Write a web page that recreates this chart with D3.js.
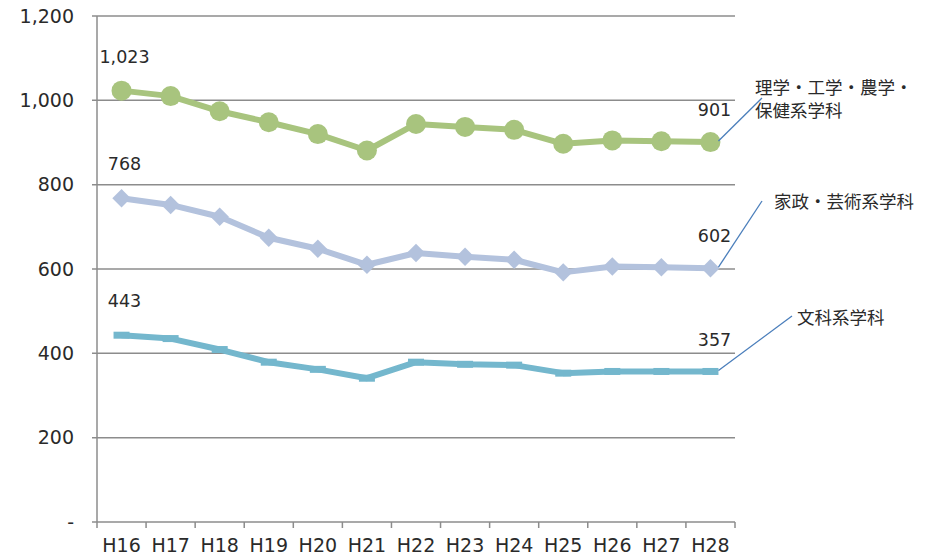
<html>
<head>
	<meta charset="utf-8">
	<script src="https://d3js.org/d3.v7.min.js"></script>
	<style>
		body { margin: 0; background: #fff; }
		text { font-family: "DejaVu Sans", "Noto Sans CJK JP", sans-serif; fill: #2a2a2a; }
		text.jp { font-family: "Noto Sans CJK JP", sans-serif; }
	</style>
</head>
<body>
	<script>
		// データ
		var years = ["H16","H17","H18","H19","H20","H21","H22","H23","H24","H25","H26","H27","H28"];
		var science = [1023,1010,974,948,920,881,944,937,930,897,905,903,901];
		var homeArts = [768,752,724,674,648,610,638,629,622,592,606,604,602];
		var humanities = [443,435,409,379,362,341,379,374,372,353,357,357,357];
		var yTicks = [0,200,400,600,800,1000,1200];
		var seriesNames = ["理学・工学・農学・|保健系学科", "家政・芸術系学科", "文科系学科"];

		var w = 945, h = 557;
		var pLeft = 97, pRight = 735, pTop = 16, pBottom = 522;

		var svg = d3.select("body").append("svg").attr("width", w).attr("height", h);

		var xScale = d3.scaleBand().domain(years).range([pLeft, pRight]).padding(0);
		var yScale = d3.scaleLinear().domain([0, 1200]).range([pBottom, pTop]);
		var cx = function(i){ return xScale(years[i]) + xScale.bandwidth() / 2; };

		// グリッド線
		svg.selectAll("line.grid").data(yTicks).enter().append("line")
			.attr("x1", pLeft - 5).attr("x2", pRight)
			.attr("y1", function(d){ return yScale(d); }).attr("y2", function(d){ return yScale(d); })
			.attr("stroke", "#8c8c8c").attr("stroke-width", 1.5);

		// y軸ラベル
		svg.selectAll("text.ylab").data(yTicks).enter().append("text")
			.attr("x", 74).attr("y", function(d){ return yScale(d); })
			.attr("dy", "0.35em").attr("text-anchor", "end").attr("font-size", 19)
			.text(function(d){ return d === 0 ? "-" : d3.format(",")(d); });

		// y軸
		svg.append("line").attr("x1", pLeft).attr("x2", pLeft).attr("y1", pTop).attr("y2", pBottom)
			.attr("stroke", "#8c8c8c").attr("stroke-width", 1.5);

		// x軸目盛り
		var bounds = years.map(function(d){ return xScale(d); }).concat([pRight]);
		svg.selectAll("line.xtick").data(bounds).enter().append("line")
			.attr("x1", function(d){ return d; }).attr("x2", function(d){ return d; })
			.attr("y1", pBottom).attr("y2", pBottom + 6)
			.attr("stroke", "#8c8c8c").attr("stroke-width", 1.5);

		svg.selectAll("text.xlab").data(years).enter().append("text")
			.attr("x", function(d, i){ return cx(i); }).attr("y", 545)
			.attr("dy", "0.35em").attr("text-anchor", "middle").attr("font-size", 19)
			.text(function(d){ return d; });

		var line = d3.line().x(function(d, i){ return cx(i); }).y(function(d){ return yScale(d); });

		// 理学・工学系
		svg.append("path").attr("d", line(science)).attr("fill", "none")
			.attr("stroke", "#a8c47e").attr("stroke-width", 6).attr("stroke-linejoin", "round");
		svg.selectAll("circle.sci").data(science).enter().append("circle")
			.attr("cx", function(d, i){ return cx(i); }).attr("cy", function(d){ return yScale(d); })
			.attr("r", 10).attr("fill", "#a8c47e");

		// 家政・芸術系
		svg.append("path").attr("d", line(homeArts)).attr("fill", "none")
			.attr("stroke", "#b3c2dd").attr("stroke-width", 6).attr("stroke-linejoin", "round");
		svg.selectAll("path.dia").data(homeArts).enter().append("path")
			.attr("d", d3.symbol().type(d3.symbolSquare).size(170))
			.attr("transform", function(d, i){ return "translate(" + cx(i) + "," + yScale(d) + ") rotate(45)"; })
			.attr("fill", "#b3c2dd");

		// 文科系
		svg.append("path").attr("d", line(humanities)).attr("fill", "none")
			.attr("stroke", "#74b7cd").attr("stroke-width", 6).attr("stroke-linejoin", "round");
		svg.selectAll("rect.dash").data(humanities).enter().append("rect")
			.attr("x", function(d, i){ return cx(i) - 8; }).attr("y", function(d){ return yScale(d) - 3.5; })
			.attr("width", 16).attr("height", 7).attr("fill", "#74b7cd");

		// データラベル
		var allSeries = [science, homeArts, humanities];
		allSeries.forEach(function(s){
			var last = s.length - 1;
			svg.append("text").attr("x", cx(0) + 3).attr("y", yScale(s[0]) - 34)
				.attr("dy", "0.35em").attr("text-anchor", "middle").attr("font-size", 17.5)
				.text(d3.format(",")(s[0]));
			svg.append("text").attr("x", cx(last) + 4).attr("y", yScale(s[last]) - 32)
				.attr("dy", "0.35em").attr("text-anchor", "middle").attr("font-size", 17.5)
				.text(d3.format(",")(s[last]));
		});

		// 系列名と引き出し線
		var leaderEnds = [[762, 98], [762, 201], [792, 316]];
		var labelPos = [[755, 88], [774, 202], [797, 318]];
		allSeries.forEach(function(s, k){
			var last = s.length - 1;
			svg.append("line")
				.attr("x1", cx(last) + 8).attr("y1", yScale(s[last]) - 1)
				.attr("x2", leaderEnds[k][0]).attr("y2", leaderEnds[k][1])
				.attr("stroke", "#4a7ebb").attr("stroke-width", 1.3);
			var parts = seriesNames[k].split("|");
			parts.forEach(function(p, j){
				svg.append("text").attr("class", "jp").attr("x", labelPos[k][0]).attr("y", labelPos[k][1] + j * 23)
					.attr("dy", "0.35em").attr("font-size", 17.5).text(p);
			});
		});
	</script>
</body>
</html>
